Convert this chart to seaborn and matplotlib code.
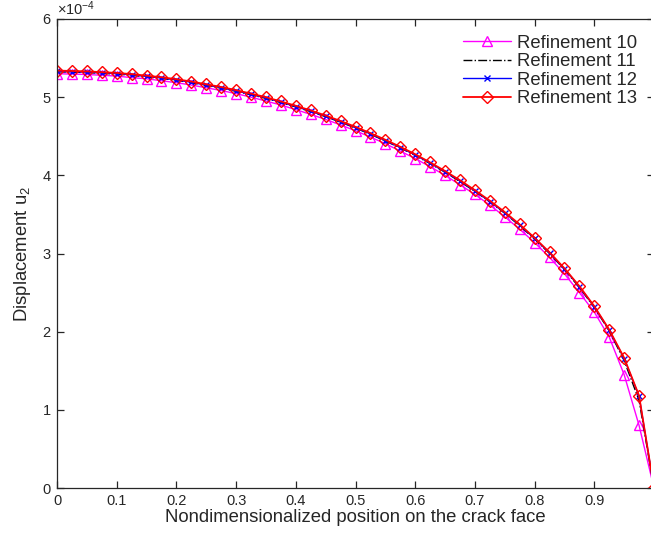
import numpy as np
import pandas as pd
import matplotlib
matplotlib.use("Agg")
import matplotlib.pyplot as plt
import seaborn as sns
from matplotlib.ticker import ScalarFormatter

# positions along the crack face (markers every 0.025)
x_pos = [0.0, 0.025, 0.05, 0.075, 0.1, 0.125, 0.15, 0.175, 0.2, 0.225,
         0.25, 0.275, 0.3, 0.325, 0.35, 0.375, 0.4, 0.425, 0.45, 0.475,
         0.5, 0.525, 0.55, 0.575, 0.6, 0.625, 0.65, 0.675, 0.7, 0.725,
         0.75, 0.775, 0.8, 0.825, 0.85, 0.875, 0.9, 0.925, 0.95, 0.975, 1.0]

# displacement u2, units of 1e-4
ref10 = [5.30, 5.295, 5.29, 5.28, 5.27, 5.25, 5.235, 5.21, 5.185, 5.155,
         5.12, 5.085, 5.045, 5.00, 4.95, 4.90, 4.84, 4.78, 4.715, 4.645,
         4.57, 4.49, 4.405, 4.31, 4.215, 4.11, 4.00, 3.88, 3.755, 3.62,
         3.47, 3.31, 3.14, 2.95, 2.74, 2.50, 2.25, 1.93, 1.45, 0.80, 0.0]
ref11 = [5.325, 5.32, 5.315, 5.305, 5.295, 5.28, 5.26, 5.24, 5.215, 5.185,
         5.15, 5.115, 5.075, 5.03, 4.985, 4.93, 4.875, 4.815, 4.75, 4.68,
         4.605, 4.525, 4.44, 4.35, 4.255, 4.15, 4.04, 3.92, 3.795, 3.66,
         3.515, 3.355, 3.185, 3.00, 2.795, 2.565, 2.31, 2.01, 1.63, 1.12, 0.0]
ref12 = [5.33, 5.325, 5.32, 5.31, 5.30, 5.285, 5.265, 5.245, 5.22, 5.19,
         5.155, 5.12, 5.08, 5.035, 4.99, 4.935, 4.88, 4.82, 4.755, 4.685,
         4.61, 4.53, 4.445, 4.355, 4.26, 4.155, 4.045, 3.928, 3.80, 3.665,
         3.52, 3.362, 3.192, 3.006, 2.802, 2.575, 2.318, 2.02, 1.655, 1.175, 0.0]
ref13 = [5.34, 5.335, 5.33, 5.32, 5.31, 5.295, 5.275, 5.255, 5.23, 5.20,
         5.165, 5.13, 5.09, 5.045, 5.00, 4.945, 4.89, 4.83, 4.765, 4.695,
         4.62, 4.54, 4.455, 4.365, 4.27, 4.165, 4.055, 3.937, 3.81, 3.675,
         3.53, 3.372, 3.20, 3.015, 2.81, 2.582, 2.325, 2.025, 1.664, 1.18, 0.0]

labels = ["Refinement 10", "Refinement 11", "Refinement 12", "Refinement 13"]
colors = ["#FF00FF", "black", "#0000FF", "#FF0000"]

sns.set_style("ticks")
plt.rcParams["font.family"] = ["Liberation Sans", "DejaVu Sans"]
plt.rcParams["mathtext.fontset"] = "custom"
plt.rcParams["mathtext.rm"] = "Liberation Sans"
plt.rcParams["mathtext.it"] = "Liberation Sans:italic"

fig = plt.figure(figsize=(6.51, 5.35), dpi=100)
ax = fig.add_axes([57 / 651, 47 / 535, 597 / 651, 469 / 535])

df = pd.DataFrame({"x": x_pos, "r10": np.array(ref10) * 1e-4,
                   "r11": np.array(ref11) * 1e-4,
                   "r12": np.array(ref12) * 1e-4,
                   "r13": np.array(ref13) * 1e-4})

sns.lineplot(data=df, x="x", y="r10", ax=ax, color=colors[0], lw=1.0,
             marker="^", markersize=7.5, markerfacecolor="none",
             markeredgecolor=colors[0], markeredgewidth=1.0, label=labels[0])
sns.lineplot(data=df, x="x", y="r11", ax=ax, color=colors[1], lw=1.0,
             linestyle="-.", label=labels[1])
sns.lineplot(data=df, x="x", y="r12", ax=ax, color=colors[2], lw=1.0,
             marker="x", markersize=5, markeredgecolor=colors[2],
             markeredgewidth=1.0, label=labels[2])
sns.lineplot(data=df, x="x", y="r13", ax=ax, color=colors[3], lw=1.3,
             marker="D", markersize=6, markerfacecolor="none",
             markeredgecolor=colors[3], markeredgewidth=1.0, label=labels[3])

ax.set_xlim(0, 1)
ax.set_ylim(0, 6e-4)
xt = [0, 0.1, 0.2, 0.3, 0.4, 0.5, 0.6, 0.7, 0.8, 0.9, 1.0]
ax.set_xticks(xt)
# the "1" label falls outside the saved canvas in the original
ax.set_xticklabels(["0", "0.1", "0.2", "0.3", "0.4", "0.5", "0.6", "0.7", "0.8", "0.9", ""])
ax.set_yticks(np.arange(0, 7) * 1e-4)
fmt = ScalarFormatter(useMathText=True)
fmt.set_powerlimits((-3, 3))
ax.yaxis.set_major_formatter(fmt)

for s in ax.spines.values():
    s.set_visible(True)
    s.set_color("#262626")
    s.set_linewidth(0.9)
ax.tick_params(direction="in", top=True, right=True, length=5, width=0.9,
               labelsize=10.5, colors="#262626", pad=4)
ax.yaxis.get_offset_text().set_fontsize(10.5)

ax.set_xlabel("Nondimensionalized position on the crack face", fontsize=13.3, labelpad=1)
ax.set_ylabel("Displacement u$_2$", fontsize=13.3, labelpad=6)

ax.legend(loc="upper right", bbox_to_anchor=(0.99, 0.99), frameon=False,
          fontsize=13.3, handlelength=2.6, handletextpad=0.3, labelspacing=0.08,
          borderaxespad=0.2)

fig.savefig("out.png", dpi=100)
